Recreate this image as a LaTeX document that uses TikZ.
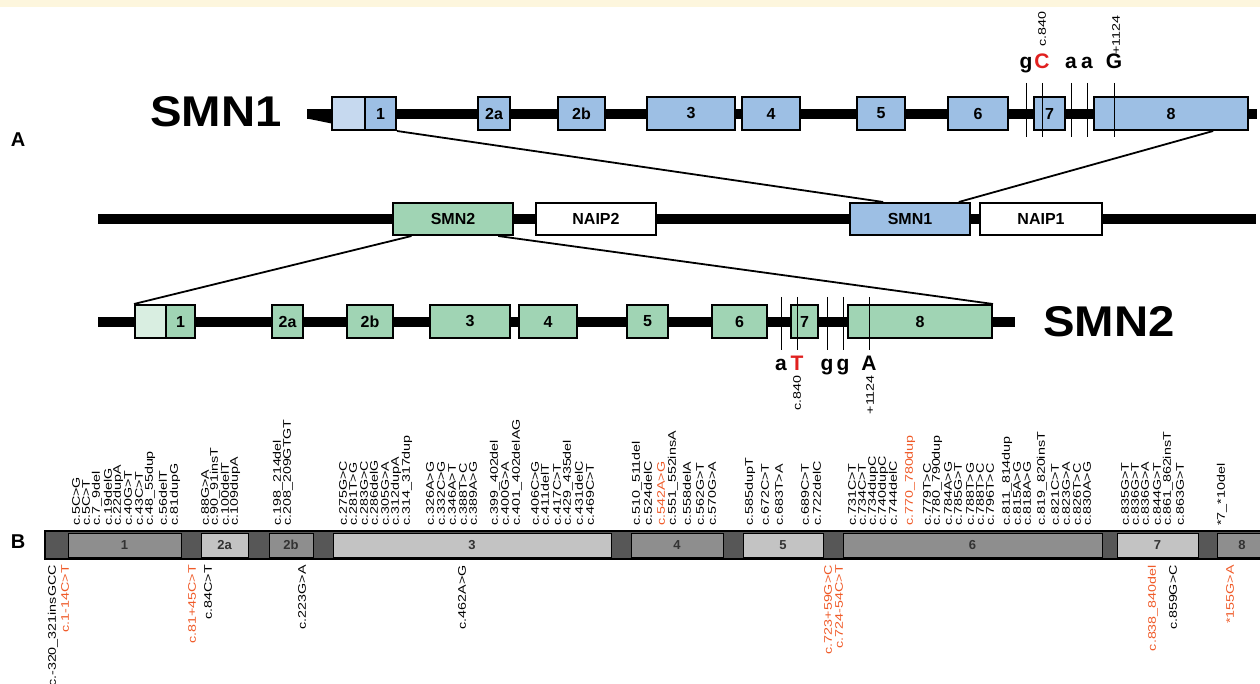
\documentclass[tikz,border=0pt]{standalone}
\usepackage{fontspec}
\setmainfont{Liberation Sans}
\newfontfamily\mutfont[FakeStretch=1.3]{Liberation Sans}
\newfontfamily\genefont[FakeStretch=1.1]{Liberation Sans}
\usetikzlibrary{calc}
\definecolor{smnblue}{HTML}{9DBFE4}
\definecolor{utrblue}{HTML}{C6D9EF}
\definecolor{smngreen}{HTML}{A0D4B4}
\definecolor{utrgreen}{HTML}{D9EEE1}
\definecolor{mutorange}{HTML}{EF5A28}
\definecolor{markred}{HTML}{E0201F}
\definecolor{cream}{HTML}{FDF6DD}
\definecolor{intgray}{HTML}{575757}
\definecolor{exdark}{HTML}{8E8E8E}
\definecolor{exlight}{HTML}{C3C3C3}

\begin{document}
\begin{tikzpicture}[x=1pt, y=-1pt,
    backbone/.style={line width=9.5pt},
    exon/.style={draw, line width=2pt, inner sep=0pt, minimum height=33pt, font=\bfseries\fontsize{16}{16}\selectfont},
    exonA/.style={exon, fill=smnblue},
    utrA/.style={exon, fill=utrblue},
    exonB/.style={exon, fill=smngreen},
    utrB/.style={exon, fill=utrgreen},
    locus/.style={draw, line width=2pt, inner sep=0pt, minimum height=32pt, minimum width=120pt, font=\bfseries\fontsize{16}{16}\selectfont},
    gene/.style={font=\genefont\bfseries\fontsize{43}{43}\selectfont, inner sep=0pt},
    panel/.style={font=\bfseries\fontsize{20}{20}\selectfont, inner sep=0pt},
    base/.style={font=\bfseries\fontsize{21}{21}\selectfont, inner sep=0pt, anchor=base},
    link/.style={line width=1.8pt},
    varline/.style={line width=0.9pt},
    mut/.style={font=\mutfont\fontsize{11}{11}\selectfont, rotate=90, inner sep=0pt},
    barex/.style={draw=black, line width=1pt, inner sep=0pt, minimum height=24pt, text=black!80, font=\bfseries\fontsize{13}{13}\selectfont}
]
\useasboundingbox (0,0) rectangle (1260,684);
\fill[cream] (0,0) rectangle (1260,7);

% panel A
\node[panel] (pA) at (18,140) {A};
\node[gene] (g1) at (216,112) {SMN1};
\node[gene] (g2) at (1109,322) {SMN2};

% SMN1 gene
\coordinate (s1L) at (307,114);
\coordinate (s1R) at (1257,114);
\fill (307,109.5) -- (334,109.5) -- (334,124) -- (307,118.5) -- cycle;
\draw[backbone] (s1L) -- (s1R);
\node[utrA, minimum width=33pt] (a0) at (348.5,113.5) {};
\node[exonA, minimum width=31pt] (a1) at (380.5,113.5) {1};
\node[exonA, minimum width=32pt] (a2a) at (494,113.5) {2a};
\node[exonA, minimum width=47pt] (a2b) at (581.5,113.5) {2b};
\node[exonA, minimum width=88pt] (a3) at (691,113.5) {3};
\node[exonA, minimum width=58pt] (a4) at (771,113.5) {4};
\node[exonA, minimum width=48pt] (a5) at (881,113.5) {5};
\node[exonA, minimum width=60pt] (a6) at (978,113.5) {6};
\node[exonA, minimum width=31pt] (a7) at (1049.5,113.5) {7};
\node[exonA, minimum width=154pt] (a8) at (1171,113.5) {8};
\foreach \x in {1026,1042,1071,1087,1114}
    \draw[varline] (\x,83) -- (\x,137);
\node[base] (n1) at (1026,69) {g};
\node[base, text=markred] (n2) at (1042,69) {C};
\node[base] (n3) at (1071,69) {a};
\node[base] (n4) at (1087,69) {a};
\node[base] (n5) at (1114,69) {G};
\node[mut, anchor=west] (p1) at (1042,47) {c.840};
\node[mut, anchor=west] (p2) at (1116,55) {+1124};

% locus
\draw[backbone] (98,219) -- (1256,219);
\node[locus, fill=smngreen] (m2) at (453,219) {SMN2};
\node[locus, fill=white] (nai2) at (596,219) {NAIP2};
\node[locus, fill=smnblue] (m1) at (910,219) {SMN1};
\node[locus, fill=white, minimum width=122pt] (nai1) at (1041,219) {NAIP1};

% SMN2 gene
\draw[backbone] (98,322) -- (1015,322);
\node[utrB, minimum width=31pt] (b0) at (150.5,321.5) {};
\node[exonB, minimum width=29pt] (b1) at (180.5,321.5) {1};
\node[exonB, minimum width=31pt] (b2a) at (287.5,321.5) {2a};
\node[exonB, minimum width=46pt] (b2b) at (370,321.5) {2b};
\node[exonB, minimum width=80pt] (b3) at (470,321.5) {3};
\node[exonB, minimum width=58pt] (b4) at (548,321.5) {4};
\node[exonB, minimum width=41pt] (b5) at (647.5,321.5) {5};
\node[exonB, minimum width=55pt] (b6) at (739.5,321.5) {6};
\node[exonB, minimum width=27pt] (b7) at (804.5,321.5) {7};
\node[exonB, minimum width=144pt] (b8) at (920,321.5) {8};
\foreach \x in {781,797,827,843,869}
    \draw[varline] (\x,297) -- (\x,350);
\node[base] (k1) at (781,370) {a};
\node[base, text=markred] (k2) at (797,370) {T};
\node[base] (k3) at (827,370) {g};
\node[base] (k4) at (843,370) {g};
\node[base] (k5) at (869,370) {A};
\node[mut, anchor=east] (q1) at (797,375) {c.840};
\node[mut, anchor=east] (q2) at (870,375) {+1124};

% zoom lines
\draw[link] (a1.south east) -- ($(m1.north west)!0.28!(m1.north east)$);
\draw[link] ($(a8.south west)!0.77!(a8.south east)$) -- ($(m1.north west)!0.9!(m1.north east)$);
\draw[link] ($(m2.south west)!0.16!(m2.south east)$) -- (b0.north west);
\draw[link] ($(m2.south west)!0.87!(m2.south east)$) -- (b8.north east);

% panel B
\node[panel] (pB) at (18,542) {B};
\draw[fill=intgray, line width=2.5pt] (45,531) rectangle (1264,559);
\node[barex, fill=exdark, minimum width=113pt] (x1) at (124.5,545) {1};
\node[barex, fill=exlight, minimum width=47pt] (x2a) at (224.5,545) {2a};
\node[barex, fill=exdark, minimum width=44pt] (x2b) at (291,545) {2b};
\node[barex, fill=exlight, minimum width=278pt] (x3) at (472,545) {3};
\node[barex, fill=exdark, minimum width=92pt] (x4) at (677,545) {4};
\node[barex, fill=exlight, minimum width=80pt] (x5) at (783,545) {5};
\node[barex, fill=exdark, minimum width=259pt] (x6) at (972.5,545) {6};
\node[barex, fill=exlight, minimum width=81pt] (x7) at (1157.5,545) {7};
\node[barex, fill=exdark, minimum width=50pt] (x8) at (1242,545) {8};

\foreach \x/\c/\t [count=\i] in {
    76/black/c.5C>G, 86/black/c.5C>T, 97/black/c.7\_9del, 108/black/c.19delG,
    118/black/c.22dupA, 128/black/c.40G>T, 139/black/c.43C>T, 150/black/c.48\_55dup,
    163/black/c.56delT, 175/black/c.81dupG,
    205/black/c.88G>A, 215/black/c.90\_91insT, 225/black/c.100delT, 235/black/c.109dupA,
    278/black/c.198\_214del, 288/black/c.208\_209GTGT,
    343/black/c.275G>C, 353/black/c.281T>G, 364/black/c.283G>C, 374/black/c.286delG,
    385/black/c.305G>A, 396/black/c.312dupA, 407/black/c.314\_317dup, 430/black/c.326A>G,
    441/black/c.332C>G, 452/black/c.346A>T, 463/black/c.388T>C, 473/black/c.389A>G,
    495/black/c.399\_402del, 505/black/c.400G>A, 517/black/c.401\_402delAG,
    535/black/c.406C>G, 545/black/c.411delT, 557/black/c.417C>T, 568/black/c.429\_435del,
    579/black/c.431delC, 590/black/c.469C>T,
    637/black/c.510\_511del, 648/black/c.524delC, 661/mutorange/c.542A>G,
    673/black/c.551\_552insA, 687/black/c.558delA, 700/black/c.562G>T, 712/black/c.570G>A,
    750/black/c.585dupT, 765/black/c.672C>T, 779/black/c.683T>A,
    805/black/c.689C>T, 817/black/c.722delC,
    852/black/c.731C>T, 862/black/c.734C>T, 873/black/c.734dupC, 883/black/c.740dupC,
    893/black/c.744delC, 910/mutorange/c.770\_780dup, 927/black/c.779T>C,
    937/black/c.780\_790dup, 948/black/c.784A>G, 958/black/c.785G>T, 970/black/c.788T>G,
    980/black/c.788T>C, 990/black/c.796T>C, 1007/black/c.811\_814dup, 1017/black/c.815A>G,
    1027/black/c.818A>G, 1042/black/c.819\_820insT, 1055/black/c.821C>T,
    1066/black/c.823G>A, 1077/black/c.826T>C, 1087/black/c.830A>G,
    1125/black/c.835G>T, 1135/black/c.836G>T, 1145/black/c.836G>A, 1157/black/c.844G>T,
    1168/black/c.861\_862insT, 1180/black/c.863G>T,
    1222/black/*7\_*10del}
    \node[mut, anchor=west, text=\c] (up\i) at (\x,526) {\t};

\foreach \x/\c/\t [count=\i] in {
    53/black/c.-320\_321insGCC, 65/mutorange/c.1-14C>T,
    192/mutorange/c.81+45C>T, 208/black/c.84C>T, 302/black/c.223G>A,
    462/black/c.462A>G, 828/mutorange/c.723+59G>C, 839/mutorange/c.724-54C>T,
    1153/mutorange/c.838\_840del, 1173/black/c.859G>C, 1230/mutorange/*155G>A}
    \node[mut, anchor=east, text=\c] (dn\i) at (\x,565) {\t};
\end{tikzpicture}
\end{document}
